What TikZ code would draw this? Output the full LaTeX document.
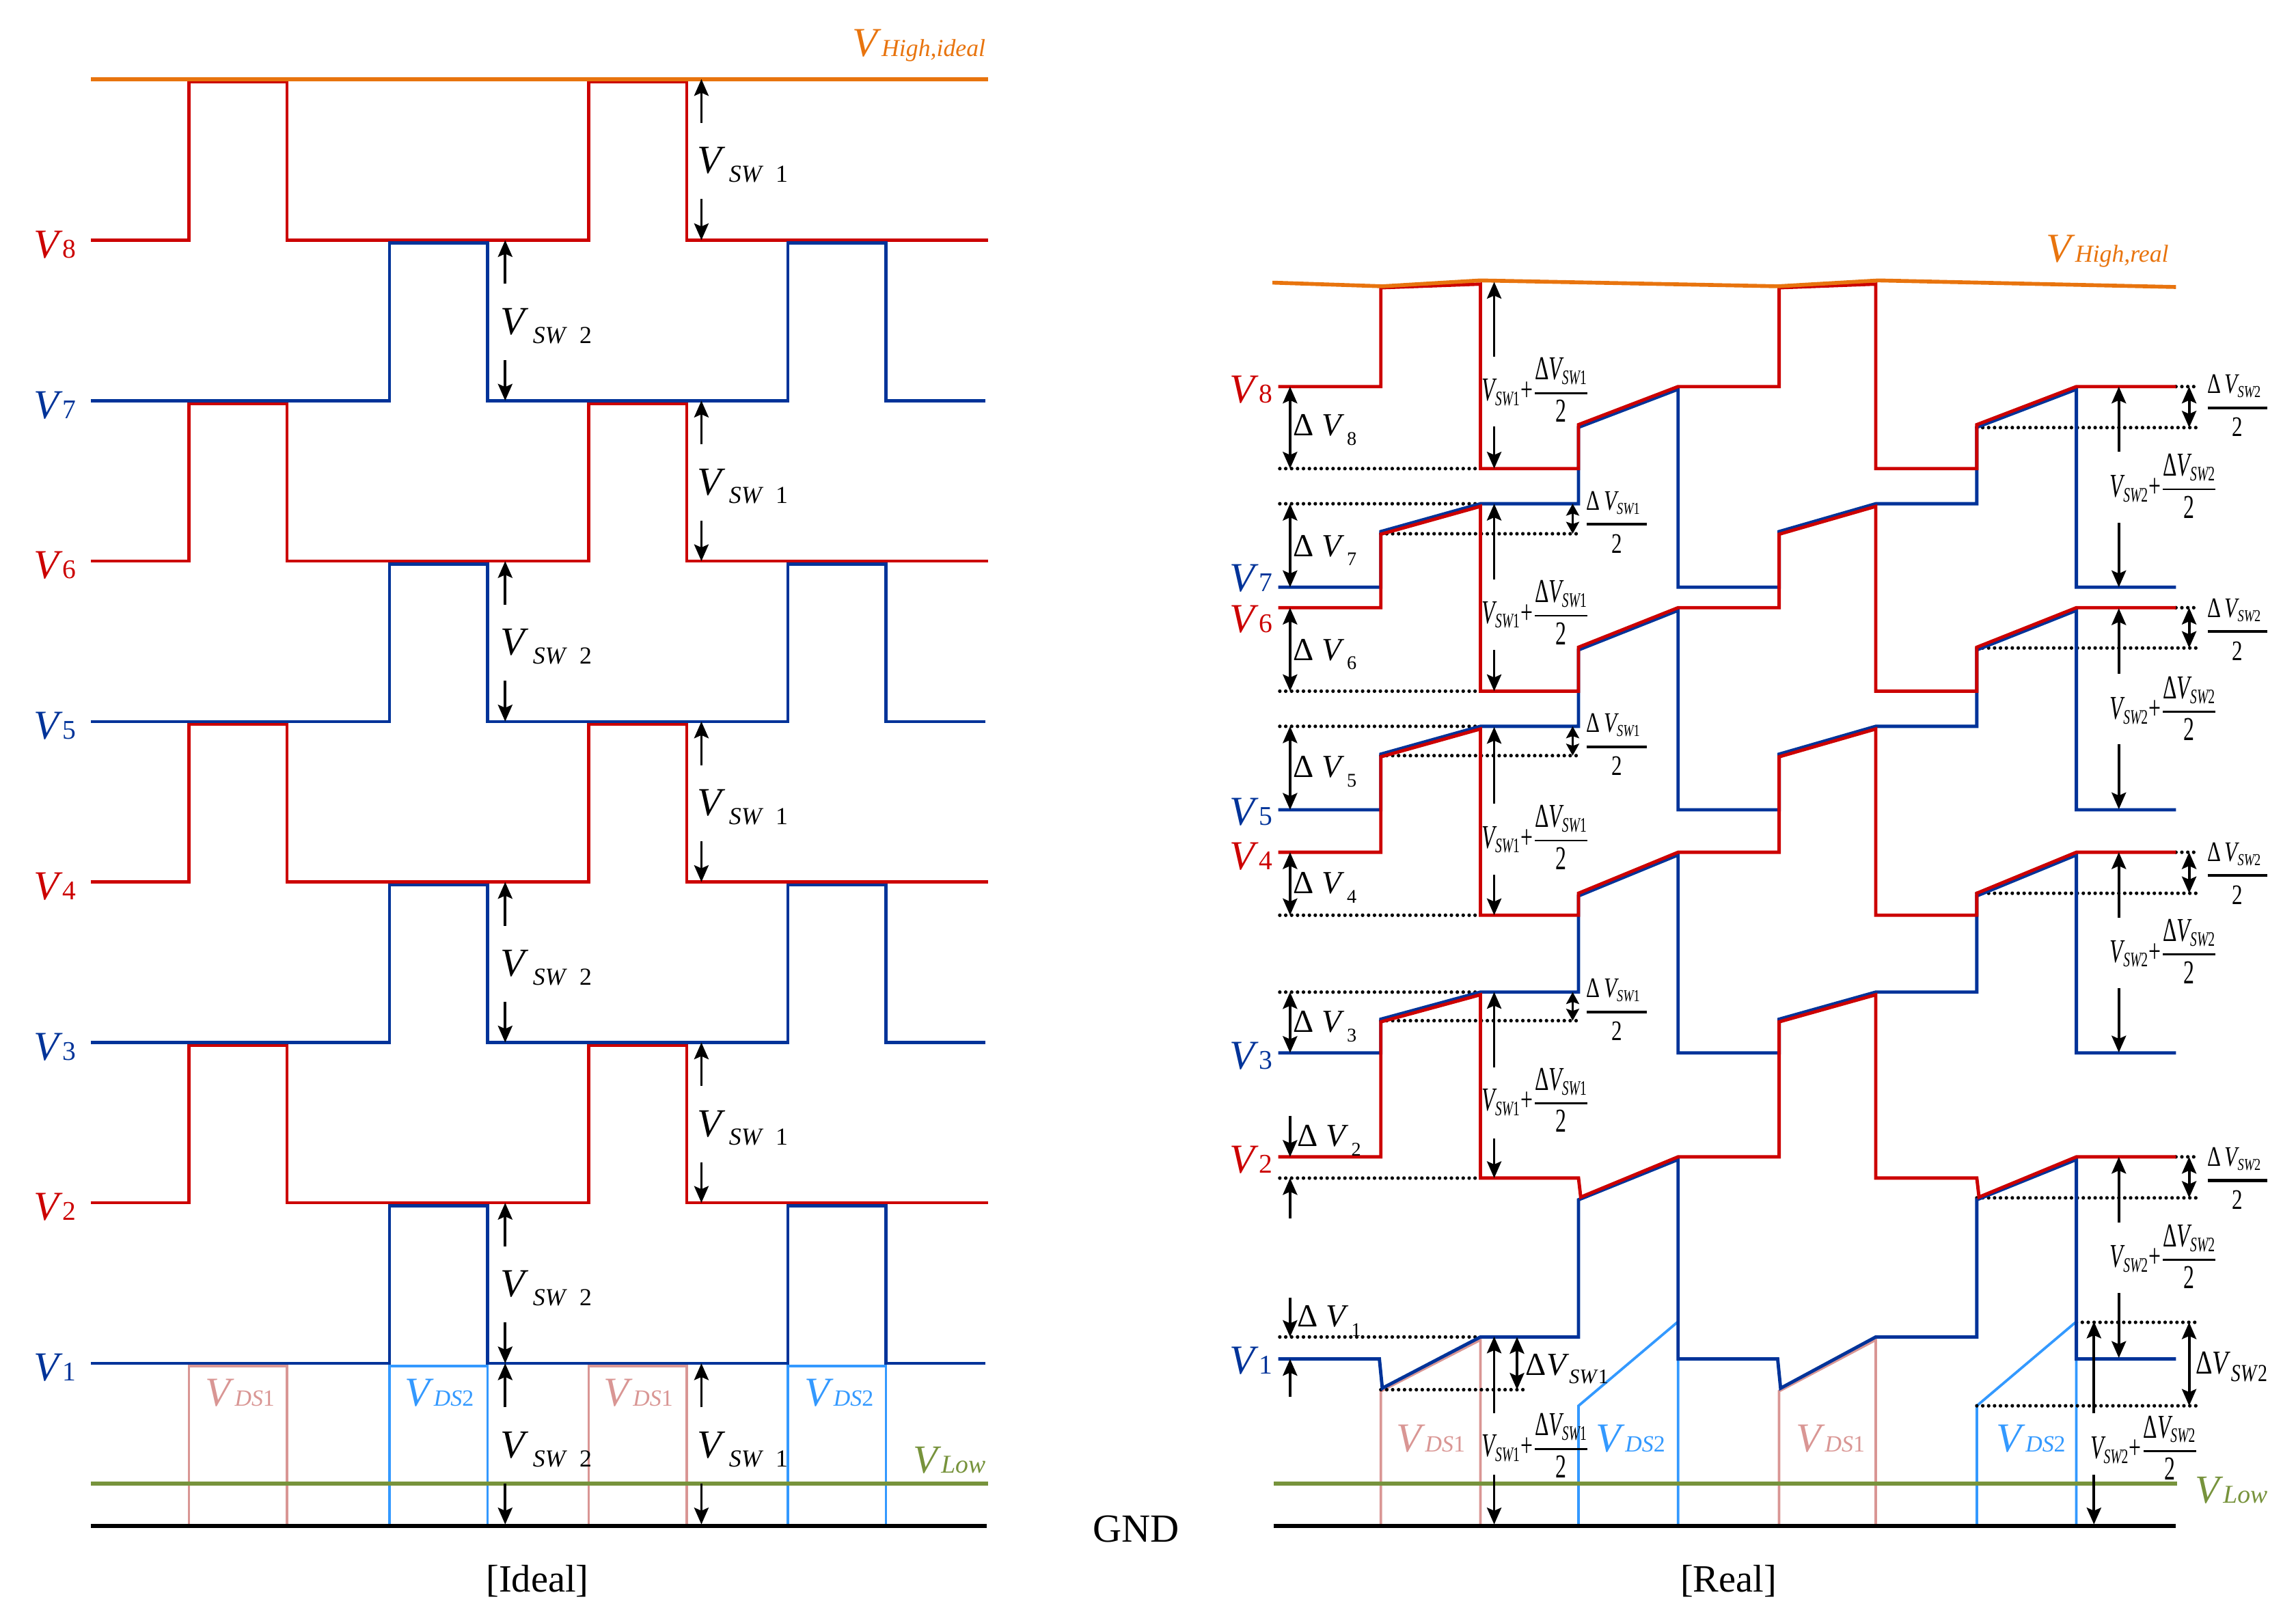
\documentclass[tikz,border=0pt]{standalone}
\usepackage{fontspec}
\usepackage{amsmath}
\usepackage{graphicx}
\setmainfont{Liberation Serif}
\usetikzlibrary{arrows.meta}
\definecolor{cred}{HTML}{CC0000}
\definecolor{cblue}{HTML}{003399}
\definecolor{corange}{HTML}{E8740E}
\definecolor{cgreen}{HTML}{77933C}
\definecolor{cpink}{HTML}{D99694}
\definecolor{clblue}{HTML}{3399FF}
\newcommand{\fsz}[1]{\fontsize{#1}{#1}\selectfont}
\newcommand{\lvlab}[1]{{\fsz{16}\textit{V}}{\fsz{10.5}#1}}
\newcommand{\dslab}[1]{{\fsz{16}\textit{V}}{\fsz{9}\textit{DS}#1}}
\newcommand{\vswlab}[1]{{\fsz{15.5}\textit{V}}\kern1.5pt\raisebox{-3.4pt}{\fsz{9.5}\textit{SW}\ \ #1}}
\newcommand{\dvlab}[1]{{\fsz{12.5}Δ\ \textit{V}}\kern1pt\raisebox{-3.6pt}{\fsz{7.5}#1}}
\newcommand{\swlab}[1]{\scalebox{0.65}[1]{\fsz{13}$\text{\itshape V}_{\text{\fsz{8}\itshape SW\upshape #1}}\text{+}\genfrac{}{}{0.7pt}{0}{\text{Δ\itshape V}_{\text{\fsz{8}\itshape SW\upshape #1}}}{\text{2}}$}}
\newcommand{\halfsw}[1]{\scalebox{0.75}[1]{\fsz{11}$\genfrac{}{}{1.1pt}{0}{\text{Δ\,\itshape V}_{\text{\fsz{6.5}\itshape SW\upshape #1}}\kern3pt}{\text{2}}$}}
\begin{document}
\begin{tikzpicture}[x=0.02cm,y=-0.02cm,
  lwave/.style={line width=1.2pt},
  rwave/.style={line width=1.3pt, line join=miter},
  redl/.style={lwave, draw=cred},
  bluel/.style={lwave, draw=cblue},
  redr/.style={rwave, draw=cred},
  bluer/.style={rwave, draw=cblue},
  pinkl/.style={line width=1pt, draw=cpink},
  lbluel/.style={line width=1pt, draw=clblue},
  railo/.style={line width=1.5pt, draw=corange},
  railg/.style={line width=1.5pt, draw=cgreen},
  railk/.style={line width=1.5pt, draw=black},
  dimarr/.style={line width=1pt, -{Stealth[length=6.5pt,width=5.6pt,inset=1.2pt]}},
  dimbi/.style={line width=1pt, {Stealth[length=6.5pt,width=5.6pt,inset=1.2pt]}-{Stealth[length=6.5pt,width=5.6pt,inset=1.2pt]}},
  dimsm/.style={line width=1pt, {Stealth[length=4.6pt,width=5pt,inset=0.8pt]}-{Stealth[length=4.6pt,width=5pt,inset=0.8pt]}},
  dotln/.style={line width=1.4pt, dash pattern=on 0pt off 2.3pt, line cap=round},
  lab/.style={inner sep=0pt, outer sep=0pt}
]
\useasboundingbox (0,0) rectangle (1568,1108);

% ================= LEFT: IDEAL =================
\draw[pinkl] (129,1042) |- (196,933) -- (196,1042);
\draw[pinkl] (402,1042) |- (469,933) -- (469,1042);
\draw[lbluel] (266,1042) |- (333,933) -- (333,1042);
\draw[lbluel] (538,1042) |- (605,933) -- (605,1042);
\draw[redl] (62,164) -| (129,56) -| (196,164) -| (402,56) -| (469,164) -- (675,164);
\draw[redl] (62,383.2) -| (129,275.6) -| (196,383.2) -| (402,275.6) -| (469,383.2) -- (675,383.2);
\draw[redl] (62,602.3) -| (129,494.7) -| (196,602.3) -| (402,494.7) -| (469,602.3) -- (675,602.3);
\draw[redl] (62,821.4) -| (129,713.9) -| (196,821.4) -| (402,713.9) -| (469,821.4) -- (675,821.4);
\draw[bluel] (62,273.6) -| (266,166) -| (333,273.6) -| (538,166) -| (605,273.6) -- (673,273.6);
\draw[bluel] (62,492.7) -| (266,385.2) -| (333,492.7) -| (538,385.2) -| (605,492.7) -- (673,492.7);
\draw[bluel] (62,711.9) -| (266,604.3) -| (333,711.9) -| (538,604.3) -| (605,711.9) -- (673,711.9);
\draw[bluel] (62,931) -| (266,823.4) -| (333,931) -| (538,823.4) -| (605,931) -- (673,931);
\draw[railg] (62,1013) -- (675,1013);
\draw[railk] (62,1042) -- (674,1042);
\draw[railo] (62,54) -- (675,54);
\foreach \ya/\yb in {54/164, 273.6/383.2, 492.7/602.3, 711.9/821.4, 931/1041}{
  \pgfmathsetmacro{\ym}{(\ya+\yb)/2}
  \draw[dimarr] (479,\ym-25) -- (479,\ya);
  \draw[dimarr] (479,\ym+27) -- (479,\yb);
  \node[lab, anchor=base west] at (476,\ym+9.5) {\vswlab{1}};
}
\foreach \ya/\yb in {164/273.6, 383.2/492.7, 602.3/711.9, 821.4/931, 931/1041}{
  \pgfmathsetmacro{\ym}{(\ya+\yb)/2}
  \draw[dimarr] (345,\ym-25) -- (345,\ya);
  \draw[dimarr] (345,\ym+27) -- (345,\yb);
  \node[lab, anchor=base west] at (342,\ym+9.5) {\vswlab{2}};
}
\node[lab, anchor=base east, text=cred]  at (52,176)   {\lvlab{8}};
\node[lab, anchor=base east, text=cblue] at (52,285.6) {\lvlab{7}};
\node[lab, anchor=base east, text=cred]  at (52,395)   {\lvlab{6}};
\node[lab, anchor=base east, text=cblue] at (52,504.7) {\lvlab{5}};
\node[lab, anchor=base east, text=cred]  at (52,614.3) {\lvlab{4}};
\node[lab, anchor=base east, text=cblue] at (52,724)   {\lvlab{3}};
\node[lab, anchor=base east, text=cred]  at (52,833.4) {\lvlab{2}};
\node[lab, anchor=base east, text=cblue] at (52,943)   {\lvlab{1}};
\node[lab, anchor=base east, text=corange] at (673,38.5) {{\fsz{16}\textit{V}}{\fsz{9.5}\textit{High,ideal}}};
\node[lab, anchor=base east, text=cgreen] at (673,1006) {{\fsz{15.5}\textit{V}}{\fsz{10}\textit{Low}}};
\node[lab, anchor=base, text=cpink]  at (164,960) {\dslab{1}};
\node[lab, anchor=base, text=clblue] at (300,960) {\dslab{2}};
\node[lab, anchor=base, text=cpink]  at (436,960) {\dslab{1}};
\node[lab, anchor=base, text=clblue] at (573,960) {\dslab{2}};
\node[lab, anchor=base] at (367,1087) {\fsz{15}[Ideal]};
\node[lab, anchor=base] at (776,1053) {\fsz{15.5}GND};

% ================= RIGHT: REAL =================
\draw[pinkl] (943,1042) -- (943,950) -- (1011,915) -- (1011,1042);
\draw[pinkl] (1215,1042) -- (1215,950) -- (1281,915) -- (1281,1042);
\draw[lbluel] (1078,1042) -- (1078,960) -- (1146,902.5) -- (1146,1042);
\draw[lbluel] (1350,1042) -- (1350,960) -- (1418,902.5) -- (1418,1042);
\foreach \y in {320,344,472,496,625,677.5,804.5,913}{\draw[dotln] (874,\y) -- (1010,\y);}
\foreach \y in {364.5,516,697}{\draw[dotln] (943,\y) -- (1079,\y);}
\draw[dotln] (943,949) -- (1043,949);
\foreach \y in {264,415,582,790}{\draw[dotln] (1486,\y) -- (1502,\y);}
\foreach \y in {292,442.5,610,818,960}{\draw[dotln] (1350,\y) -- (1502,\y);}
\draw[dotln] (1418,903) -- (1502,903);
\draw[bluer] (873,401) -- (943,401) -- (943,363) -- (1011,344) -- (1078,344) -- (1078,291.8) -- (1146,265.8) -- (1146,401) -- (1215,401) -- (1215,363) -- (1281,344) -- (1350,344) -- (1350,291.8) -- (1418,265.8) -- (1418,401) -- (1486,401);
\draw[bluer] (873,553) -- (943,553) -- (943,515) -- (1011,496) -- (1078,496) -- (1078,443.8) -- (1146,416.8) -- (1146,553) -- (1215,553) -- (1215,515) -- (1281,496) -- (1350,496) -- (1350,443.8) -- (1418,416.8) -- (1418,553) -- (1486,553);
\draw[bluer] (873,719) -- (943,719) -- (943,696) -- (1011,677.5) -- (1078,677.5) -- (1078,611.8) -- (1146,583.8) -- (1146,719) -- (1215,719) -- (1215,696) -- (1281,677.5) -- (1350,677.5) -- (1350,611.8) -- (1418,583.8) -- (1418,719) -- (1486,719);
\draw[bluer] (873,928) -- (942,928) -- (944,948) -- (1011,913) -- (1078,913) -- (1078,819.3) -- (1146,791.8) -- (1146,928) -- (1214,928) -- (1216,948) -- (1281,913) -- (1350,913) -- (1350,819.3) -- (1418,791.8) -- (1418,928) -- (1486,928);
\draw[redr] (873,264) -- (943,264) -- (943,196.5) -- (1011,194) -- (1011,320) -- (1078,320) -- (1078,290) -- (1146,264) -- (1215,264) -- (1215,196.5) -- (1281,194) -- (1281,320) -- (1350,320) -- (1350,290) -- (1418,264) -- (1486,264);
\draw[redr] (873,415) -- (943,415) -- (943,364.8) -- (1011,345.8) -- (1011,472) -- (1078,472) -- (1078,442) -- (1146,415) -- (1215,415) -- (1215,364.8) -- (1281,345.8) -- (1281,472) -- (1350,472) -- (1350,442) -- (1418,415) -- (1486,415);
\draw[redr] (873,582) -- (943,582) -- (943,516.8) -- (1011,497.8) -- (1011,625) -- (1078,625) -- (1078,610) -- (1146,582) -- (1215,582) -- (1215,516.8) -- (1281,497.8) -- (1281,625) -- (1350,625) -- (1350,610) -- (1418,582) -- (1486,582);
\draw[redr] (873,790) -- (943,790) -- (943,697.8) -- (1011,679.3) -- (1011,804.5) -- (1078,804.5) -- (1079.5,817.5) -- (1146,790) -- (1215,790) -- (1215,697.8) -- (1281,679.3) -- (1281,804.5) -- (1350,804.5) -- (1351.5,817.5) -- (1418,790) -- (1486,790);
\draw[railg] (870,1013) -- (1487,1013);
\draw[railk] (870,1042) -- (1486,1042);
\draw[railo] (869,193) -- (944,195.5) -- (1011,191.5) -- (1214,195.5) -- (1283,191.5) -- (1486,196);
\foreach \ya/\yb in {264/320, 344/401, 415/472, 496/553, 582/625, 677.5/719}{
  \draw[dimbi] (881,\ya) -- (881,\yb);
}
\draw[dimarr] (881,762) -- (881,790);
\draw[dimarr] (881,832) -- (881,804.5);
\draw[dimarr] (881,886) -- (881,913);
\draw[dimarr] (881,954) -- (881,928);
\node[lab, anchor=base west] at (883,297.7) {\dvlab{8}};
\node[lab, anchor=base west] at (883,380)   {\dvlab{7}};
\node[lab, anchor=base west] at (883,450.8) {\dvlab{6}};
\node[lab, anchor=base west] at (883,531)   {\dvlab{5}};
\node[lab, anchor=base west] at (883,610.3) {\dvlab{4}};
\node[lab, anchor=base west] at (883,705)   {\dvlab{3}};
\node[lab, anchor=base west] at (886,783)   {\dvlab{2}};
\node[lab, anchor=base west] at (886,906)   {\dvlab{1}};
\foreach \ya/\yb/\yl in {344/364.5/358, 496/516/510, 677.5/697/691}{
  \draw[dimsm] (1074,\ya) -- (1074,\yb);
  \node[lab, anchor=base west] at (1082,\yl+4.8) {\halfsw{1}};
}
\foreach \ya/\yb/\yl in {264/292/278.5, 415/442.5/431.4, 582/610/598, 790/818/806.2}{
  \draw[dimbi] (1495,\ya) -- (1495,\yb);
  \node[lab, anchor=base west] at (1506,\yl+4.8) {\halfsw{2}};
}
\draw[dimbi] (1036,913) -- (1036,949);
\node[lab, anchor=base west] at (1042,939) {{\fsz{12.5}Δ\textit{V}}\raisebox{-3.2pt}{\fsz{8}\textit{SW}1}};
\draw[dimbi] (1495,903) -- (1495,960);
\node[lab, anchor=base west] at (1499.5,938) {\scalebox{0.78}[1]{{\fsz{13}Δ\textit{V}}\raisebox{-3pt}{\fsz{9.5}\textit{SW}2}}};
\foreach \ya/\yu/\yl/\yb/\yt in {192.5/243.5/291.4/320/268, 344/395.6/444/472/420, 496.4/548.9/597.4/625/573.5, 677.4/729/777.5/804.5/753, 912.7/965/1007/1041/989}{
  \draw[dimarr] (1020.4,\yu) -- (1020.4,\ya);
  \draw[dimarr] (1020.4,\yl) -- (1020.4,\yb);
  \node[lab, anchor=base west] at (1012,\yt+5.7) {\swlab{1}};
}
\foreach \ya/\yu/\yl/\yb/\yt in {264/308.5/357/401/333.7, 415.4/460/508.3/552.6/485.6, 582/626.6/675/718.7/651.4, 790/834.7/883/927.3/859.9}{
  \draw[dimarr] (1447,\yu) -- (1447,\ya);
  \draw[dimarr] (1447,\yl) -- (1447,\yb);
  \node[lab, anchor=base west] at (1441,\yt+5.7) {\swlab{2}};
}
\draw[dimarr] (1430,965) -- (1430,902.5);
\draw[dimarr] (1430,1007) -- (1430,1041);
\node[lab, anchor=base west] at (1427.6,996.2) {\swlab{2}};
\node[lab, anchor=base east, text=cred]  at (869,275)   {\lvlab{8}};
\node[lab, anchor=base east, text=cblue] at (869,404)   {\lvlab{7}};
\node[lab, anchor=base east, text=cred]  at (869,432)   {\lvlab{6}};
\node[lab, anchor=base east, text=cblue] at (869,563.5) {\lvlab{5}};
\node[lab, anchor=base east, text=cred]  at (869,594)   {\lvlab{4}};
\node[lab, anchor=base east, text=cblue] at (869,730)   {\lvlab{3}};
\node[lab, anchor=base east, text=cred]  at (869,801)   {\lvlab{2}};
\node[lab, anchor=base east, text=cblue] at (869,938)   {\lvlab{1}};
\node[lab, anchor=base east, text=corange] at (1481,179) {{\fsz{16}\textit{V}}{\fsz{9.5}\textit{High,real}}};
\node[lab, anchor=base west, text=cgreen] at (1499,1026.5) {{\fsz{15.5}\textit{V}}{\fsz{10}\textit{Low}}};
\node[lab, anchor=base, text=cpink]  at (977,991.5)  {\dslab{1}};
\node[lab, anchor=base, text=clblue] at (1113.6,991.5) {\dslab{2}};
\node[lab, anchor=base, text=cpink]  at (1250,991.5) {\dslab{1}};
\node[lab, anchor=base, text=clblue] at (1387,991.5) {\dslab{2}};
\node[lab, anchor=base] at (1180.5,1087) {\fsz{15}[Real]};
\end{tikzpicture}
\end{document}
